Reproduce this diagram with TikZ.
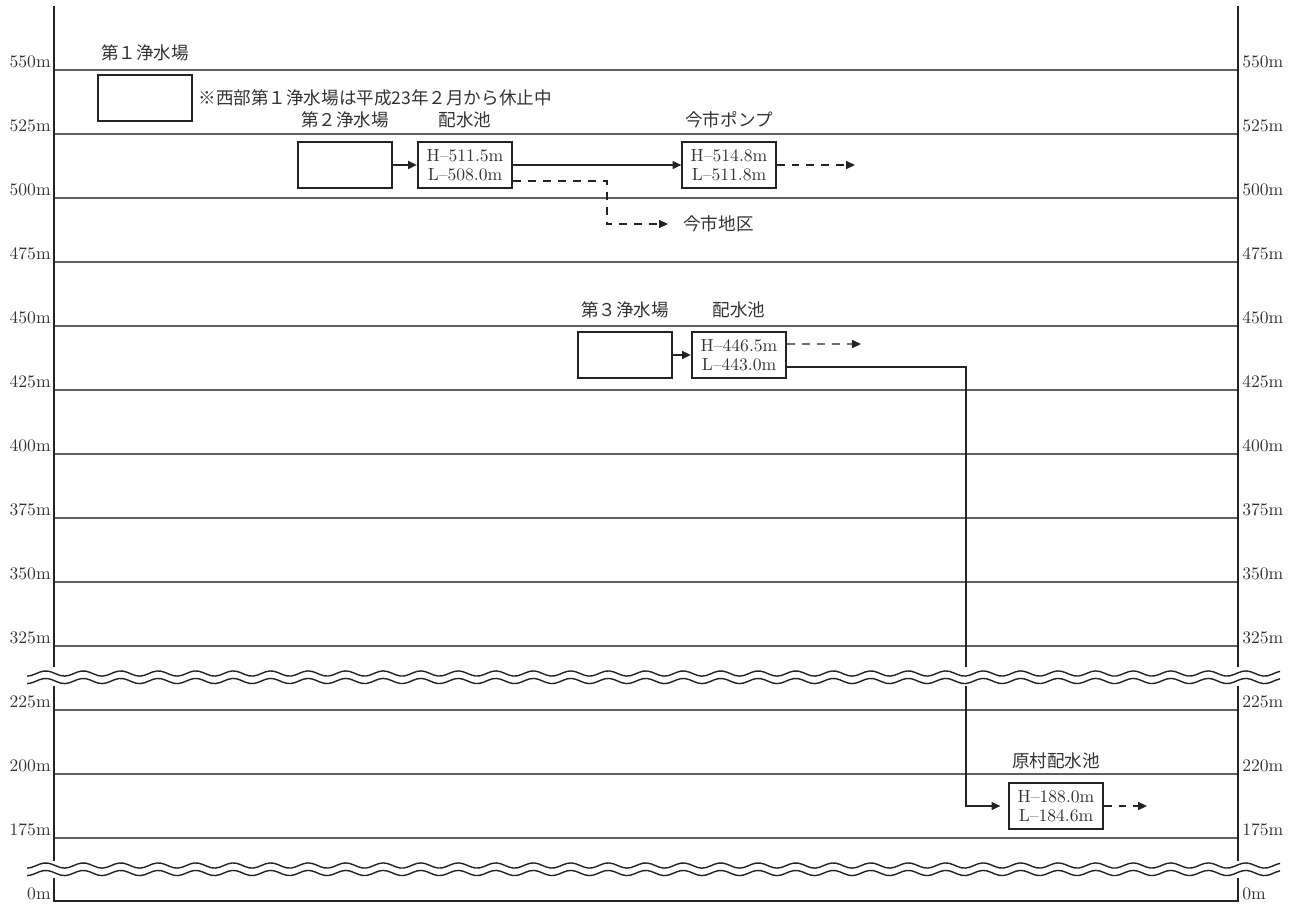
\documentclass[tikz,border=0pt]{standalone}
\usepackage{fontspec}
\newfontfamily\jpfont{Noto Sans CJK JP}
\usetikzlibrary{arrows.meta,positioning}
\definecolor{lvlgray}{RGB}{95,95,95}
\definecolor{inkblack}{RGB}{35,35,35}
\definecolor{txtgray}{RGB}{50,50,50}

\begin{document}
\begin{tikzpicture}[
    x=0.02cm, y=-0.02cm,
    axisline/.style={line width=1.5pt, draw=inkblack},
    gridline/.style={line width=0.7pt, draw=lvlgray},
    plantbox/.style={draw=inkblack, line width=1.3pt, minimum width=1.88cm, minimum height=0.92cm, inner sep=0pt},
    poolbox/.style={plantbox, align=center, text=txtgray, font=\fontsize{10}{10.5}\selectfont},
    thinbox/.style={poolbox, line width=0.7pt},
    namelbl/.style={font=\jpfont\fontsize{10}{12}\selectfont, text=txtgray, inner sep=0pt},
    lvllbl/.style={font=\fontsize{10}{12}\selectfont, text=txtgray, inner sep=0pt},
    flow/.style={-{Triangle[length=5pt,width=4.5pt]}, line width=0.8pt, draw=inkblack},
    flowdash/.style={flow, dash pattern=on 4.5pt off 4pt},
    wave/.style={line width=0.8pt, draw=inkblack}
]
\useasboundingbox (0,0) rectangle (1301,904);

% === Niveles (lineas horizontales y cotas) ===
\foreach \yy/\lft/\rgt in {70/550/550, 134/525/525, 198/500/500, 262/475/475, 326/450/450,
    390/425/425, 454/400/400, 518/375/375, 582/350/350, 646/325/325,
    710/225/225, 774/200/220, 838/175/175} {
    \draw[gridline] (54,\yy) -- (1238,\yy);
    \node[lvllbl, anchor=base east] at (51,\yy-3) {\lft m};
    \node[lvllbl, anchor=base west] at (1242,\yy-3) {\rgt m};
}
\node[lvllbl, anchor=base east] (zeroL) at (51,899) {0m};
\node[lvllbl, anchor=base west] (zeroR) at (1242,899) {0m};

% === Ejes ===
\draw[axisline] (54,6) -- (54,901) -- (1238,901) -- (1238,6);

% === Plantas y depositos ===
\node[plantbox] (plant1) at (145,98) {};
\node[plantbox] (plant2) at (345,165) {};
\node[poolbox] (pool1) at (465,165) {H--511.5m\\L--508.0m};
\node[thinbox] (pump) at (729,165) {H--514.8m\\L--511.8m};
\node[plantbox] (plant3) at (625,355) {};
\node[poolbox] (pool2) at (739,355) {H--446.5m\\L--443.0m};
\node[thinbox] (haramura) at (1056,806) {H--188.0m\\L--184.6m};

% === Rotulos ===
\node[namelbl, above=0.26cm of plant1] (plant1lbl) {第１浄水場};
\node[namelbl, right=0.1cm of plant1] (note) {※西部第１浄水場は平成23年２月から休止中};
\node[namelbl, above=0.26cm of plant2] (plant2lbl) {第２浄水場};
\node[namelbl, above=0.26cm of pool1] (pool1lbl) {配水池};
\node[namelbl, above=0.26cm of pump] (pumplbl) {今市ポンプ};
\node[namelbl, above=0.26cm of plant3] (plant3lbl) {第３浄水場};
\node[namelbl, above=0.26cm of pool2] (pool2lbl) {配水池};
\node[namelbl, above=0.26cm of haramura] (haralbl) {原村配水池};
\node[namelbl, anchor=west] (imaichi) at (683,224) {今市地区};

% === Conexiones ===
\coordinate (imaichiturn) at (607,224);
\coordinate (pumpout) at (855,165);
\coordinate (pool2out) at (861,344);
\coordinate (haradrop) at (966,806);
\coordinate (haraout) at (1147,806);

\draw[flow, line width=1.3pt] (plant2) -- (pool1);
\draw[flow] (pool1) -- (pump);
\draw[flowdash, shorten >=0.3cm] ([yshift=-0.32cm]pool1.east) -| (imaichiturn) -- (imaichi.west);
\draw[flowdash] (pump) -- (pumpout);
\draw[flow, line width=1.3pt] (plant3) -- (pool2);
\draw[flowdash] ([yshift=0.22cm]pool2.east) -- (pool2out);
\draw[flow, shorten >=0.16cm] ([yshift=-0.24cm]pool2.east) -| (haradrop) -- (haramura.west);
\draw[flowdash] (haramura) -- (haraout);

% === Cortes de escala (ondas) ===
\fill[white] (36,667) rectangle (1262,686);
\draw[wave] plot[domain=27:1280, samples=300] (\x,{673.5+2.6*cos((\x-27)*9.6)});
\draw[wave] plot[domain=27:1280, samples=300] (\x,{681+2.6*cos((\x-27)*9.6)});

\fill[white] (36,861) rectangle (1262,878);
\draw[wave] plot[domain=27:1280, samples=300] (\x,{865.5+2.6*cos((\x-27)*9.6)});
\draw[wave] plot[domain=27:1280, samples=300] (\x,{873+2.6*cos((\x-27)*9.6)});

\end{tikzpicture}
\end{document}
